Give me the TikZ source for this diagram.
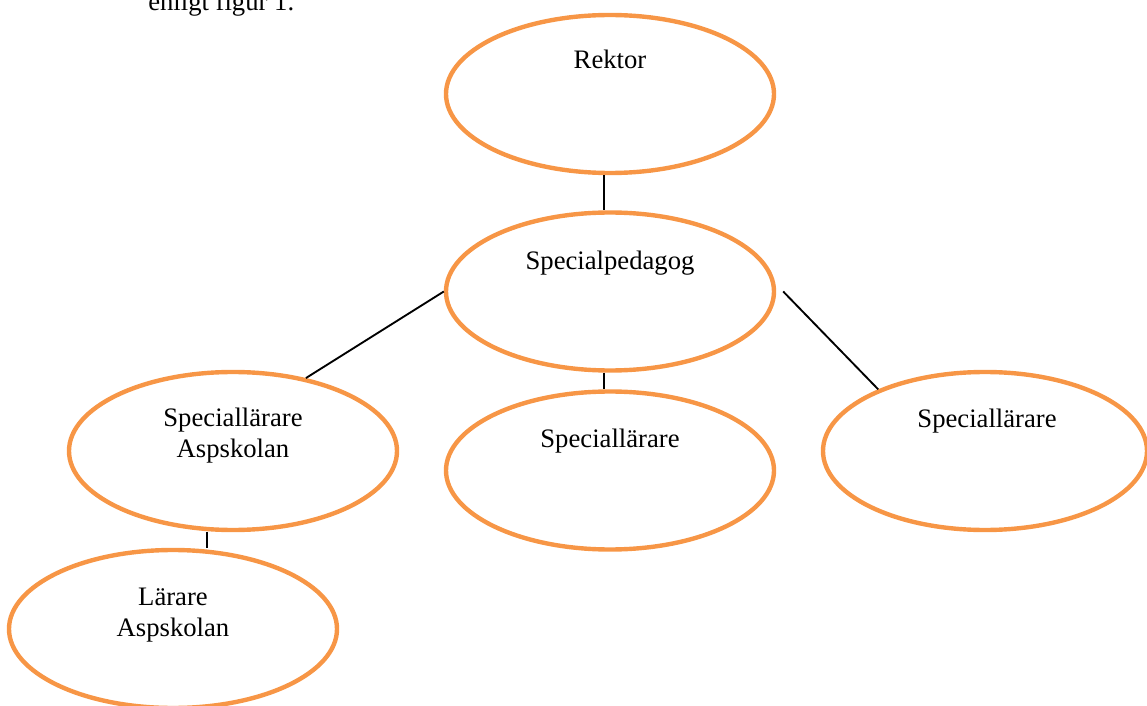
\documentclass[tikz,border=0pt]{standalone}
\usepackage{fontspec}
\setmainfont{Liberation Serif}
\usetikzlibrary{shapes.geometric,calc}
\definecolor{boxorange}{HTML}{F79646}
\begin{document}
\begin{tikzpicture}[x=0.75pt,y=-0.75pt,
  oval/.style={ellipse,draw=boxorange,line width=3.3pt,inner sep=0pt,
    minimum width=328*0.75pt,minimum height=158*0.75pt},
  lbl/.style={font=\fontsize{20}{23.25}\selectfont,align=center,anchor=base,inner sep=0pt},
  conn/.style={draw=black,line width=1.4pt}]
\useasboundingbox (0,0) rectangle (1147,706);
\node[lbl,anchor=base west] (intro) at (148,11) {enligt figur 1.};
\node[oval] (r) at (610,94) {};
\node[oval] (sp) at (610,291.5) {};
\node[oval] (a) at (233,451) {};
\node[oval] (m) at (610,470.5) {};
\node[oval,minimum width=324*0.75pt] (rt) at (985,451) {};
\node[oval] (l) at (173,629) {};
\node[lbl] (tr) at (610,69) {Rektor};
\node[lbl] (tsp) at (610,270) {Specialpedagog};
\node[lbl] (ta) at (233,457) {Speciallärare\\Aspskolan};
\node[lbl] (tm) at (610,447) {Speciallärare};
\node[lbl] (trt) at (987,427) {Speciallärare};
\node[lbl] (tl) at (173,636) {Lärare\\Aspskolan};
\draw[conn] ($(r.south)+(-6,0)$) coordinate (c1) -- (c1 |- sp.north);
\draw[conn] ($(sp.south)+(-6,0)$) coordinate (c2) -- (c2 |- m.north);
\draw[conn] (sp.west) -- (a.45);
\draw[conn] ($(sp.east)+(7,0)$) -- (rt.150);
\draw[conn] ($(a.south)+(-26,0)$) coordinate (c3) -- (c3 |- l.north);
\end{tikzpicture}
\end{document}
